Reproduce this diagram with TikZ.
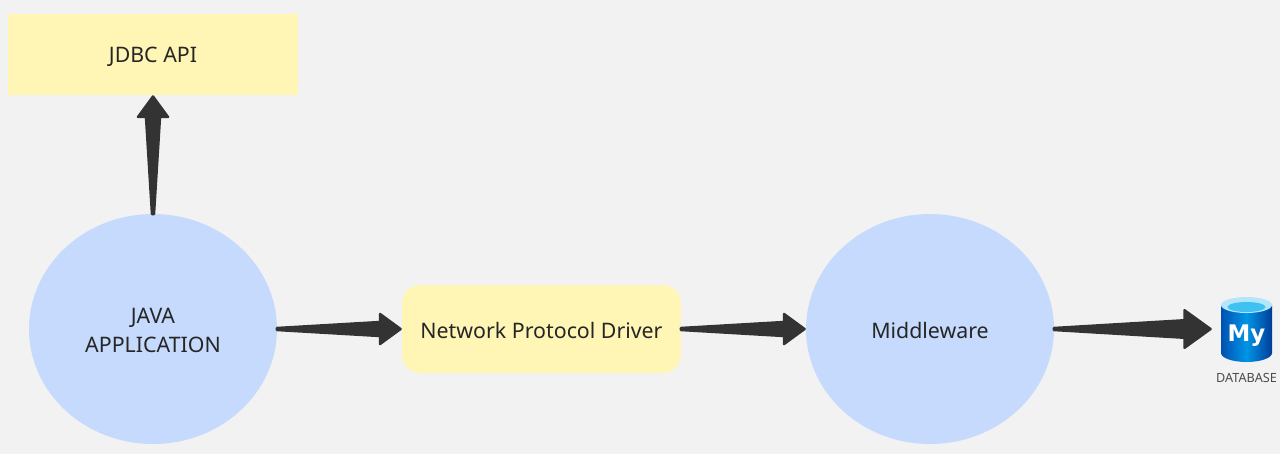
\documentclass[tikz,border=0pt]{standalone}
\usepackage{fontspec}
\setmainfont{Noto Sans}
\newfontfamily\logofont{DejaVu Sans Bold}
\usetikzlibrary{calc,shapes.geometric}
\definecolor{paper}{HTML}{F2F2F2}
\definecolor{stickyyellow}{HTML}{FFF6B6}
\definecolor{softblue}{HTML}{C5DAFD}
\definecolor{arrowgrey}{HTML}{333333}
\tikzset{
    blob/.style={ellipse, fill=softblue, draw=none, inner sep=0pt, outer sep=0pt, minimum width=4.96cm, minimum height=4.6cm, align=center, font=\fontsize{12.15}{16.5}\selectfont, text=black!85},
    sticky/.style={rectangle, fill=stickyyellow, inner sep=0pt, outer sep=0pt, align=center, font=\fontsize{12.15}{16}\selectfont, text=black!85},
    fatarrow/.style={fill=arrowgrey, draw=arrowgrey, line width=.05cm, line join=round},
}
\newcommand{\fatarrow}[3][1]{%
    \coordinate (neck) at ($(#3)!#1*.44cm!(#2)$);
    \coordinate (tip) at ($(#3)!.03cm!(#2)$);
    \filldraw[fatarrow] ($(#2)!.02cm!90:(#3)$) -- ($(neck)!#1*.14cm!-90:(#2)$) -- ($(neck)!#1*.3cm!-90:(#2)$) -- (tip) -- ($(neck)!#1*.3cm!90:(#2)$) -- ($(neck)!#1*.14cm!90:(#2)$) -- ($(#2)!.02cm!-90:(#3)$) -- cycle;
}
\begin{document}
\begin{tikzpicture}[x=0.02cm, y=-0.02cm]
    \useasboundingbox[fill=paper] (0,0) rectangle (1280,454);
    \node[sticky, minimum width=5.8cm, minimum height=1.62cm, text height=11.3pt] (jdbc) at (153,54.5) {JDBC API};
    \node[blob, text height=27pt] (app) at (153,329) {JAVA\\APPLICATION};
    \node[sticky, rounded corners=.36cm, minimum width=5.58cm, minimum height=1.76cm, text height=11.3pt] (driver) at (541.5,329) {Network Protocol Driver};
    \node[blob, text height=11.3pt] (middleware) at (930,329) {Middleware};
    % database icon
    \coordinate (dbtip) at (1212,329);
    \shade[left color=blue!55!cyan!70!black, right color=blue!60!cyan!60!black, middle color=blue!35!cyan!90!black]
        (1221,305) -- (1221,353) arc[x radius=25.5, y radius=-9, start angle=180, end angle=360] -- (1272,305) -- cycle;
    \fill[cyan!30!white] (1246.5,305) ellipse[x radius=25.5, y radius=8];
    \fill[cyan!75!white] (1246.5,307) ellipse[x radius=19, y radius=5];
    \node[font=\fontsize{13}{13}\logofont, text=white, inner sep=0pt] (mylogo) at (1246.5,336) {My};
    \node[font=\fontsize{7.2}{8}\selectfont, text=black!70, inner sep=0pt] (dblabel) at (1246.5,378) {DATABASE};
    % arrows
    \fatarrow{app.north}{jdbc.south}
    \fatarrow{app.east}{driver.west}
    \fatarrow{driver.east}{middleware.west}
    \fatarrow[1.25]{middleware.east}{dbtip}
\end{tikzpicture}
\end{document}
